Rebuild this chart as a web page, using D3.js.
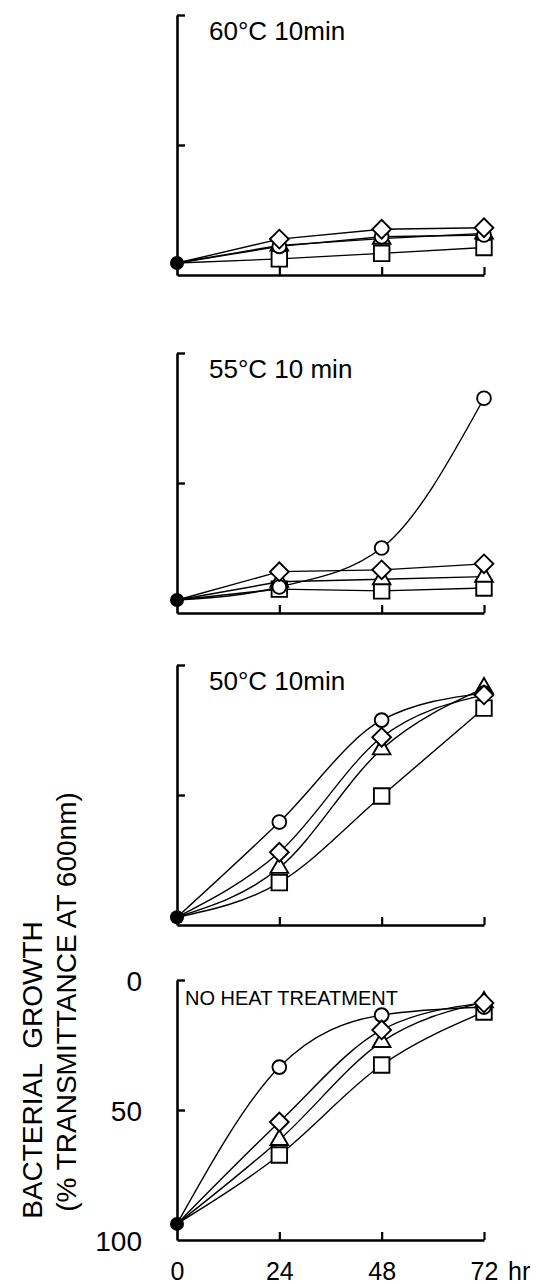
<!DOCTYPE html>
<html>
<head>
<meta charset="utf-8">
<script src="https://cdn.jsdelivr.net/npm/d3@7"></script>
<style>
  html, body { margin: 0; padding: 0; background: #fff; }
  svg { display: block; }
  text { font-family: "Liberation Sans", Arial, sans-serif; fill: #000; white-space: pre; }
</style>
</head>
<body>
<svg id="chart" width="541" height="1284"></svg>
<script>
// Sampling times (hours)
const hours = [0, 24, 48, 72];
const xTickLabels = ["0", "24", "48", "72"];
const yTickLabels = [0, 50, 100];

// Panel titles, top to bottom
const panelTitles = ["60°C 10min", "55°C 10 min", "50°C 10min", "NO HEAT TREATMENT"];

// % transmittance at 600 nm for each strain, per heat treatment
const circle60   = [95.4, 89.0, 85.3, 84.6];
const diamond60  = [95.4, 86.2, 82.4, 81.8];
const triangle60 = [95.4, 88.6, 86.0, 84.0];
const square60   = [95.4, 93.8, 91.7, 89.4];

const circle55   = [95.0, 90.0, 75.0, 17.4];
const diamond55  = [95.0, 84.1, 83.4, 81.1];
const triangle55 = [95.0, 88.0, 87.0, 86.0];
const square55   = [95.0, 90.8, 91.5, 90.4];

const circle50   = [97.0, 60.4, 21.2, 10.8];
const diamond50  = [97.0, 72.0, 27.8, 11.5];
const triangle50 = [97.0, 78.0, 32.4, 8.9];
const square50   = [97.0, 83.7, 50.4, 16.6];

const circleNo   = [93.8, 33.5, 13.5, 10.4];
const diamondNo  = [93.8, 54.6, 19.2, 8.8];
const triangleNo = [93.8, 61.5, 23.8, 8.5];
const squareNo   = [93.8, 67.3, 32.7, 12.3];

const seriesNames = ["square", "triangle", "circle", "diamond"];
const panelData = [
  [square60, triangle60, circle60, diamond60],
  [square55, triangle55, circle55, diamond55],
  [square50, triangle50, circle50, diamond50],
  [squareNo, triangleNo, circleNo, diamondNo]
];

const svg = d3.select("#chart");

// Layout
const xLeft = 177, xRight = 484;
const panelBox = [[15, 275], [353, 613], [665, 925], [980, 1240]];

const x = d3.scaleLinear().domain([0, 72]).range([xLeft, xRight]);

const symbolFor = {
  circle:   { type: d3.symbolCircle,   size: 150, rotate: 0 },
  square:   { type: d3.symbolSquare,   size: 240, rotate: 0 },
  triangle: { type: d3.symbolTriangle, size: 135, rotate: 0 },
  diamond:  { type: d3.symbolSquare,   size: 175, rotate: 45 }
};

// Which panels use smoothed curves (per series)
function curveFor(panelIdx, name) {
  if (panelIdx >= 2) return d3.curveMonotoneX;
  if (panelIdx === 1 && name === "circle") return d3.curveMonotoneX;
  return d3.curveLinear;
}

panelData.forEach((series, pi) => {
  const [top, bottom] = panelBox[pi];
  const y = d3.scaleLinear().domain([0, 100]).range([top, bottom]);
  const g = svg.append("g");
  const isLast = pi === panelData.length - 1;

  // Y axis: bracket at top, tick at 50
  const yAxis = d3.axisLeft(y)
    .tickValues(isLast ? yTickLabels : [0, 50])
    .tickSize(-8)
    .tickSizeOuter(0)
    .tickPadding(isLast ? 35 : 0);
  const gy = g.append("g").attr("transform", `translate(${xLeft},0)`).call(yAxis);
  gy.select(".domain").attr("stroke", "#000").attr("stroke-width", 2.6);
  gy.selectAll(".tick line").attr("stroke", "#000").attr("stroke-width", 2.4);
  if (isLast) {
    gy.selectAll(".tick text")
      .attr("font-size", 28)
      .attr("dy", "0.38em")
      .style("font-family", "'Liberation Sans', Arial, sans-serif");
    gy.selectAll(".tick").filter(d => d === 100).select("line").remove();
  } else {
    gy.selectAll(".tick text").remove();
  }

  // X axis
  const xAxis = d3.axisBottom(x)
    .tickValues(isLast ? hours : hours.slice(1))
    .tickSize(-8)
    .tickSizeOuter(0)
    .tickPadding(22)
    .tickFormat(d => xTickLabels[hours.indexOf(d)]);
  const gx = g.append("g").attr("transform", `translate(0,${bottom})`).call(xAxis);
  gx.select(".domain").attr("stroke", "#000").attr("stroke-width", 2.6);
  gx.selectAll(".tick line").attr("stroke", "#000").attr("stroke-width", 2.2);
  gx.selectAll(".tick").filter(d => d === 0).select("line").remove();
  if (isLast) {
    gx.selectAll(".tick text")
      .attr("font-size", 25)
      .style("font-family", "'Liberation Sans', Arial, sans-serif");
    g.append("text")
      .attr("x", x(72) + 24)
      .attr("y", bottom + 22)
      .attr("dy", "0.71em")
      .attr("font-size", 25)
      .text("hr");
  } else {
    gx.selectAll(".tick text").remove();
  }

  // Panel title
  g.append("text")
    .attr("x", isLast ? 185 : 209)
    .attr("y", top + 25)
    .attr("font-size", isLast ? 20 : 26)
    .text(panelTitles[pi]);

  // Growth curves
  series.forEach((vals, si) => {
    const name = seriesNames[si];
    const line = d3.line()
      .x((d, i) => x(hours[i]))
      .y(d => y(d))
      .curve(curveFor(pi, name));
    g.append("path")
      .attr("d", line(vals))
      .attr("fill", "none")
      .attr("stroke", "#000")
      .attr("stroke-width", 1.4);
  });

  // Markers (open symbols)
  series.forEach((vals, si) => {
    const name = seriesNames[si];
    const sym = symbolFor[name];
    const path = d3.symbol().type(sym.type).size(sym.size)();
    g.selectAll(null)
      .data(vals.slice(1))
      .join("path")
      .attr("d", path)
      .attr("transform", (d, i) => `translate(${x(hours[i + 1])},${y(d)}) rotate(${sym.rotate})`)
      .attr("fill", "#fff")
      .attr("stroke", "#000")
      .attr("stroke-width", 1.9);
  });

  // Shared starting point (filled)
  g.append("circle")
    .attr("cx", x(hours[0]))
    .attr("cy", y(series[0][0]))
    .attr("r", 7)
    .attr("fill", "#000");
});

// Y-axis title
svg.append("text")
  .attr("transform", "translate(42,1070) rotate(-90)")
  .attr("text-anchor", "middle")
  .attr("font-size", 28)
  .text("BACTERIAL  GROWTH");
svg.append("text")
  .attr("transform", "translate(76,1002) rotate(-90)")
  .attr("text-anchor", "middle")
  .attr("font-size", 28)
  .text("(% TRANSMITTANCE AT 600nm)");
</script>
</body>
</html>
